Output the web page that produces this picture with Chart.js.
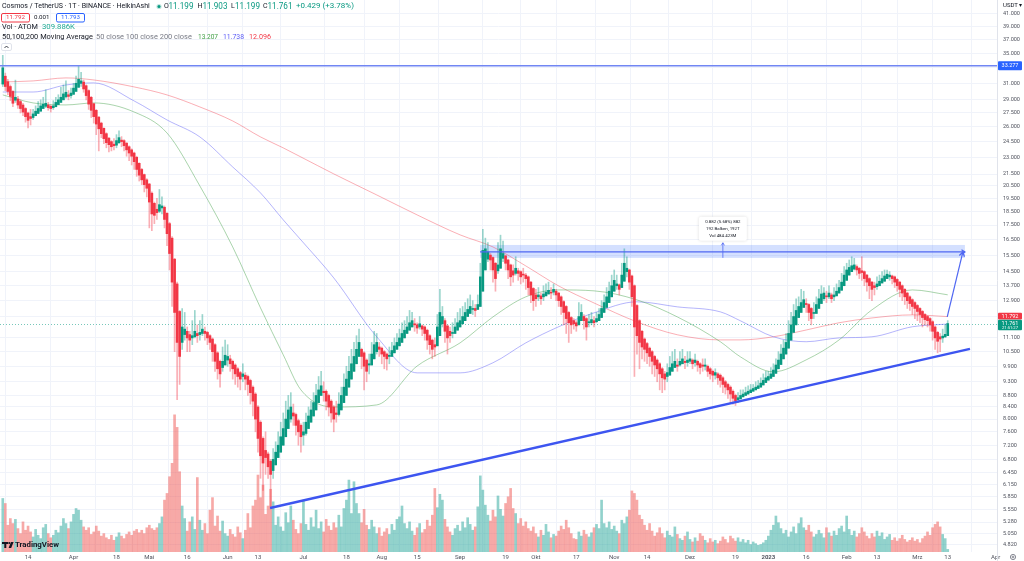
<!DOCTYPE html>
<html>
<head>
<meta charset="utf-8">
<script src="https://cdn.jsdelivr.net/npm/chart.js@4.4.0/dist/chart.umd.min.js"></script>
<style>
  html, body { margin: 0; padding: 0; background: #fff; }
  #wrap { position: relative; width: 1024px; height: 561px; }
</style>
</head>
<body>
<div id="wrap"><canvas id="myChart" width="1024" height="561"></canvas></div>
<script>
// day index 0 = 4 Mar 2022, last candle (374) = 13 Mar 2023
const opens = [
  30.9, 31.9, 31.2, 30.6, 30.0, 28.95, 29.1, 28.8, 28.4, 28.0,
  27.5, 27.1, 27.0, 27.2, 27.45, 27.7, 28.0, 28.25, 28.4, 28.25,
  28.1, 28.2, 28.45, 28.7, 29.0, 29.35, 29.6, 29.5, 29.65, 30.0,
  30.5, 31.0, 31.15, 30.7, 30.1, 29.3, 28.55, 27.8, 27.05, 26.4,
  25.85, 25.3, 24.85, 24.5, 24.25, 24.15, 24.4, 24.65, 24.6, 24.35,
  24.0, 23.7, 23.4, 23.0, 22.45, 21.9, 21.45, 21.0, 20.65, 19.9,
  19.1, 18.65, 18.5, 18.75, 18.8, 18.35, 17.6, 16.6, 15.25, 13.8,
  12.35, 10.9, 11.25, 11.4, 11.25, 11.1, 11.15, 11.3, 11.25, 11.3,
  11.4, 11.35, 11.2, 11.05, 10.8, 10.45, 10.1, 9.85, 9.95, 10.15,
  10.2, 10.1, 9.95, 9.8, 9.65, 9.5, 9.55, 9.5, 9.35, 9.1,
  8.85, 8.4, 7.9, 7.4, 7.05, 6.95, 6.75, 6.5, 6.65, 6.85,
  7.0, 7.2, 7.45, 7.7, 8.0, 8.2, 8.15, 7.95, 7.8, 7.5,
  7.55, 7.7, 7.9, 8.1, 8.3, 8.55, 8.8, 8.95, 8.95, 8.8,
  8.6, 8.4, 8.2, 8.15, 8.3, 8.55, 8.8, 9.1, 9.4, 9.7,
  10.0, 10.3, 10.6, 10.45, 10.15, 9.95, 9.95, 10.2, 10.5, 10.7,
  10.65, 10.5, 10.4, 10.3, 10.3, 10.45, 10.6, 10.75, 10.9, 11.1,
  11.3, 11.45, 11.6, 11.75, 11.7, 11.6, 11.65, 11.6, 11.45, 11.2,
  11.0, 10.8, 10.75, 11.2, 11.75, 11.9, 11.65, 11.4, 11.3, 11.3,
  11.45, 11.6, 11.75, 11.9, 12.1, 12.25, 12.45, 12.5, 12.45, 12.6,
  13.4, 14.6, 15.25, 15.5, 15.35, 15.0, 14.55, 14.7, 15.3, 15.45,
  15.2, 14.9, 14.55, 14.4, 14.55, 14.5, 14.35, 14.3, 14.2, 13.9,
  13.55, 13.2, 13.1, 13.15, 13.1, 13.15, 13.25, 13.35, 13.35, 13.4,
  13.3, 13.1, 12.85, 12.6, 12.3, 12.05, 11.9, 11.8, 11.7, 11.9,
  12.1, 12.0, 11.8, 11.8, 11.9, 11.85, 11.9, 12.05, 12.3, 12.55,
  12.8, 13.1, 13.4, 13.7, 13.75, 13.6, 13.95, 14.5, 14.6, 14.25,
  13.7, 12.65, 11.9, 11.4, 11.05, 10.85, 10.65, 10.5, 10.3, 10.15,
  10.0, 9.8, 9.6, 9.5, 9.55, 9.7, 9.85, 9.95, 9.95, 10.0,
  10.1, 10.05, 10.1, 10.15, 10.05, 10.1, 10.0, 9.95, 9.9, 9.9,
  9.8, 9.7, 9.55, 9.6, 9.55, 9.45, 9.3, 9.2, 9.1, 8.95,
  8.8, 8.65, 8.68, 8.75, 8.8, 8.85, 8.9, 8.95, 9.0, 9.05,
  9.1, 9.18, 9.27, 9.36, 9.43, 9.5, 9.62, 9.8, 9.97, 10.2,
  10.4, 10.65, 11.0, 11.35, 11.7, 12.05, 12.3, 12.55, 12.75, 12.7,
  12.5, 12.25, 12.25, 12.5, 12.75, 13.0, 13.15, 13.1, 13.2, 13.1,
  13.15, 13.3, 13.45, 13.7, 14.0, 14.3, 14.5, 14.65, 14.8, 14.7,
  14.55, 14.5, 14.3, 14.1, 13.9, 13.7, 13.65, 13.7, 13.85, 13.95,
  14.1, 14.2, 14.25, 14.2, 14.05, 13.9, 13.7, 13.5, 13.3, 13.1,
  12.95, 12.8, 12.65, 12.5, 12.35, 12.2, 12.1, 12.0, 11.85, 11.6,
  11.35, 11.15, 11.1, 11.14, 11.199
];
const closes = [
  33.0, 30.6, 30.0, 29.4, 28.6, 29.3, 28.4, 28.0, 27.6, 27.1,
  26.7, 26.9, 27.4, 27.7, 28.0, 28.3, 28.5, 28.6, 28.1, 28.0,
  28.3, 28.7, 29.0, 29.3, 29.7, 29.9, 29.4, 29.8, 30.4, 31.0,
  31.5, 31.3, 30.3, 29.5, 28.5, 27.8, 27.1, 26.3, 25.8, 25.3,
  24.8, 24.4, 24.2, 24.0, 24.1, 24.6, 24.9, 24.5, 24.1, 23.7,
  23.4, 23.1, 22.6, 21.9, 21.4, 21.0, 20.6, 20.3, 19.2, 18.3,
  18.2, 18.4, 19.0, 18.9, 17.9, 16.9, 15.6, 13.9, 12.3, 10.9,
  10.3, 11.6, 11.5, 11.1, 11.0, 11.2, 11.4, 11.2, 11.35, 11.5,
  11.3, 11.1, 10.9, 10.5, 10.1, 9.8, 9.6, 10.1, 10.35, 10.3,
  10.0, 9.8, 9.6, 9.5, 9.4, 9.6, 9.4, 9.2, 8.9, 8.6,
  8.0, 7.4, 6.9, 6.7, 6.85, 6.6, 6.4, 6.8, 7.0, 7.2,
  7.45, 7.7, 8.0, 8.3, 8.4, 8.1, 7.8, 7.6, 7.45, 7.6,
  7.9, 8.1, 8.3, 8.55, 8.8, 9.0, 9.15, 8.9, 8.6, 8.4,
  8.2, 8.0, 8.15, 8.5, 8.8, 9.1, 9.4, 9.7, 10.0, 10.3,
  10.6, 10.9, 10.3, 9.9, 9.7, 10.0, 10.4, 10.8, 10.9, 10.6,
  10.4, 10.3, 10.2, 10.35, 10.55, 10.75, 10.9, 11.1, 11.3, 11.45,
  11.6, 11.8, 11.9, 11.7, 11.55, 11.75, 11.5, 11.3, 11.0, 10.8,
  10.6, 10.7, 11.6, 12.3, 12.1, 11.4, 11.1, 11.2, 11.35, 11.6,
  11.8, 11.9, 12.1, 12.3, 12.45, 12.6, 12.5, 12.4, 12.7, 14.2,
  15.8, 15.9, 15.7, 15.2, 14.6, 14.1, 14.9, 15.9, 15.6, 15.0,
  14.6, 14.2, 14.3, 14.7, 14.4, 14.2, 14.3, 14.1, 13.6, 13.2,
  12.9, 13.0, 13.2, 13.0, 13.25, 13.35, 13.45, 13.3, 13.5, 13.2,
  12.9, 12.6, 12.3, 12.0, 11.8, 11.7, 11.75, 11.65, 12.1, 12.3,
  11.9, 11.6, 11.85, 11.95, 11.8, 12.0, 12.2, 12.5, 12.8, 13.1,
  13.4, 13.7, 14.0, 13.8, 13.5, 14.3, 15.0, 14.7, 13.9, 13.1,
  11.6, 11.2, 10.9, 10.7, 10.6, 10.45, 10.3, 10.1, 9.95, 9.8,
  9.6, 9.45, 9.4, 9.65, 9.85, 10.0, 10.1, 9.9, 10.1, 10.2,
  10.05, 10.15, 10.2, 10.0, 10.15, 9.95, 9.85, 9.9, 9.95, 9.7,
  9.6, 9.55, 9.65, 9.45, 9.35, 9.2, 9.1, 9.0, 8.85, 8.7,
  8.6, 8.72, 8.8, 8.85, 8.9, 8.95, 9.0, 9.05, 9.1, 9.15,
  9.25, 9.35, 9.45, 9.5, 9.6, 9.75, 9.95, 10.15, 10.4, 10.65,
  10.9, 11.3, 11.7, 12.1, 12.4, 12.6, 12.8, 12.95, 12.7, 12.3,
  12.0, 12.3, 12.7, 13.0, 13.25, 13.3, 13.1, 13.3, 13.0, 13.2,
  13.4, 13.6, 13.9, 14.3, 14.6, 14.75, 14.85, 14.9, 14.6, 14.4,
  14.45, 14.1, 13.9, 13.7, 13.5, 13.6, 13.8, 13.95, 14.1, 14.25,
  14.35, 14.3, 14.1, 13.9, 13.7, 13.5, 13.3, 13.1, 12.9, 12.75,
  12.6, 12.5, 12.35, 12.2, 12.05, 11.95, 11.9, 11.7, 11.4, 11.1,
  10.95, 11.05, 11.18, 11.26, 11.761
];
const highs = [
  34.7, 32.3, 31.5, 30.8, 30.1, 31.4, 29.4, 29.0, 28.6, 28.1,
  27.6, 27.9, 27.9, 28.3, 28.8, 29.0, 29.3, 30.2, 28.7, 28.4,
  28.9, 29.3, 29.6, 30.5, 30.8, 31.3, 30.1, 30.4, 31.0, 31.9,
  33.3, 32.4, 31.4, 30.8, 30.2, 29.4, 28.6, 27.9, 27.1, 26.5,
  25.9, 25.4, 24.9, 24.6, 24.8, 25.2, 25.6, 25.0, 24.7, 24.4,
  24.1, 23.8, 23.5, 23.1, 22.5, 22.0, 21.5, 21.1, 20.7, 20.0,
  19.2, 19.5, 20.2, 19.6, 18.9, 18.4, 17.7, 16.7, 15.3, 13.9,
  12.4, 12.5, 12.3, 11.6, 11.4, 11.9, 12.4, 11.7, 11.9, 12.2,
  11.6, 11.4, 11.25, 11.1, 10.85, 10.5, 10.15, 10.7, 11.0, 10.8,
  10.35, 10.15, 10.0, 9.85, 9.7, 10.0, 9.65, 9.55, 9.4, 9.15,
  8.9, 8.45, 7.95, 7.45, 7.6, 7.0, 6.8, 7.1, 7.3, 7.6,
  7.9, 8.2, 8.6, 8.8, 8.9, 8.5, 8.2, 8.0, 7.85, 7.9,
  8.2, 8.4, 8.6, 8.9, 9.2, 9.5, 9.7, 9.3, 9.0, 8.85,
  8.65, 8.45, 8.6, 8.9, 9.1, 9.6, 9.9, 10.3, 10.6, 10.9,
  11.2, 11.5, 10.65, 10.5, 10.2, 10.4, 10.9, 11.4, 11.3, 10.9,
  10.7, 10.55, 10.45, 10.7, 10.9, 11.1, 11.3, 11.5, 11.8, 11.9,
  12.1, 12.4, 12.3, 12.0, 11.8, 12.1, 11.7, 11.65, 11.5, 11.25,
  11.05, 11.1, 12.2, 13.5, 12.6, 12.0, 11.7, 11.6, 11.8, 12.0,
  12.3, 12.5, 12.6, 12.8, 13.0, 13.2, 12.9, 12.7, 13.2, 15.0,
  17.2, 16.6, 16.3, 15.6, 15.4, 15.05, 16.3, 16.8, 16.4, 15.5,
  15.25, 14.95, 14.9, 15.4, 14.7, 14.55, 14.7, 14.4, 14.25, 13.95,
  13.6, 13.5, 13.6, 13.3, 13.7, 13.8, 13.9, 13.6, 13.8, 13.5,
  13.35, 13.15, 12.9, 12.65, 12.35, 12.1, 12.0, 11.9, 12.8, 12.7,
  12.2, 12.05, 12.2, 12.3, 12.1, 12.3, 12.5, 12.9, 13.2, 13.6,
  13.9, 14.3, 14.6, 14.3, 13.8, 15.0, 15.9, 15.4, 14.65, 14.3,
  13.75, 12.7, 11.95, 11.45, 11.1, 10.9, 10.7, 10.55, 10.35, 10.2,
  10.05, 9.85, 9.7, 10.0, 10.3, 10.5, 10.6, 10.2, 10.5, 10.6,
  10.3, 10.5, 10.5, 10.2, 10.4, 10.15, 10.05, 10.2, 10.2, 9.95,
  9.85, 9.75, 9.8, 9.65, 9.6, 9.5, 9.35, 9.25, 9.15, 9.0,
  8.85, 8.9, 9.0, 9.0, 9.1, 9.15, 9.2, 9.2, 9.3, 9.35,
  9.45, 9.6, 9.7, 9.7, 9.85, 10.0, 10.2, 10.5, 10.8, 11.0,
  11.3, 11.9, 12.3, 12.7, 13.0, 13.1, 13.5, 13.4, 13.0, 12.75,
  12.55, 12.8, 13.1, 13.5, 13.7, 13.6, 13.4, 13.7, 13.3, 13.6,
  13.8, 14.0, 14.4, 14.8, 15.0, 15.2, 15.4, 15.3, 14.9, 14.75,
  15.4, 14.55, 14.35, 14.15, 13.95, 13.9, 14.2, 14.3, 14.5, 14.6,
  14.6, 14.5, 14.3, 14.25, 14.1, 13.95, 13.75, 13.55, 13.35, 13.15,
  13.0, 12.85, 12.7, 12.55, 12.4, 12.25, 12.15, 12.05, 11.9, 11.65,
  11.4, 11.3, 11.5, 11.7, 11.903
];
const lows = [
  30.6, 30.1, 29.6, 28.9, 28.2, 28.7, 28.0, 27.5, 27.2, 26.5,
  25.9, 26.2, 26.8, 27.2, 27.45, 27.7, 28.0, 28.1, 27.8, 27.6,
  27.9, 28.2, 28.45, 28.7, 29.0, 29.2, 29.0, 29.2, 29.65, 30.0,
  30.5, 30.6, 29.9, 29.0, 27.9, 27.0, 26.4, 25.2, 23.6, 24.9,
  24.3, 23.9, 23.5, 23.6, 23.7, 23.9, 24.3, 24.0, 23.6, 23.1,
  22.7, 22.3, 21.9, 21.3, 20.9, 20.6, 20.0, 19.6, 17.3, 17.1,
  17.6, 17.9, 18.4, 18.3, 17.3, 16.1, 14.6, 12.6, 10.5, 8.65,
  9.2, 10.6, 11.0, 10.5, 10.5, 10.8, 11.1, 10.9, 11.0, 11.2,
  11.0, 10.8, 10.6, 10.1, 9.7, 9.4, 9.1, 9.7, 9.95, 9.9,
  9.7, 9.4, 9.2, 9.1, 9.0, 9.3, 9.0, 8.8, 8.5, 8.1,
  7.6, 7.0, 6.3, 6.0, 6.4, 6.3, 5.58, 6.3, 6.65, 6.85,
  7.0, 7.2, 7.45, 7.7, 7.9, 7.8, 7.5, 7.2, 7.0, 7.2,
  7.5, 7.7, 7.9, 8.1, 8.3, 8.55, 8.8, 8.6, 8.3, 8.1,
  7.9, 7.6, 7.9, 8.1, 8.3, 8.55, 8.8, 9.1, 9.4, 9.7,
  10.0, 10.3, 9.8, 9.0, 9.3, 9.6, 9.95, 10.2, 10.4, 10.3,
  10.0, 9.8, 9.75, 10.0, 10.3, 10.45, 10.6, 10.75, 10.9, 11.1,
  11.3, 11.45, 11.6, 11.4, 11.3, 11.5, 11.2, 11.0, 10.6, 10.4,
  10.2, 10.3, 10.75, 11.2, 11.6, 10.9, 10.4, 10.9, 11.1, 11.3,
  11.45, 11.6, 11.75, 11.9, 12.1, 12.25, 12.2, 12.1, 12.45, 12.6,
  13.4, 14.6, 15.1, 14.6, 13.9, 13.4, 14.4, 14.7, 15.1, 14.6,
  14.1, 13.7, 13.9, 14.3, 14.0, 13.8, 13.9, 13.5, 13.2, 12.8,
  12.4, 12.6, 12.9, 12.7, 12.9, 13.15, 13.25, 13.0, 13.2, 12.9,
  12.6, 12.2, 11.7, 11.3, 10.9, 11.3, 11.5, 11.4, 11.7, 11.9,
  11.5, 11.0, 11.6, 11.7, 11.6, 11.8, 11.9, 12.05, 12.3, 12.55,
  12.8, 13.1, 13.4, 13.5, 13.2, 13.6, 13.95, 14.2, 13.5, 12.6,
  9.5, 10.4, 9.8, 10.2, 10.1, 10.0, 9.9, 9.6, 9.5, 9.3,
  9.0, 8.9, 9.0, 9.3, 9.55, 9.7, 9.85, 9.7, 9.9, 10.0,
  9.8, 9.9, 10.0, 9.8, 9.9, 9.7, 9.6, 9.7, 9.75, 9.5,
  9.4, 9.3, 9.4, 9.2, 9.1, 8.9, 8.85, 8.7, 8.55, 8.5,
  8.45, 8.55, 8.68, 8.75, 8.8, 8.85, 8.9, 8.95, 9.0, 9.05,
  9.1, 9.18, 9.27, 9.36, 9.43, 9.5, 9.62, 9.8, 9.97, 10.2,
  10.4, 10.65, 11.0, 11.35, 11.7, 12.05, 12.3, 12.55, 12.3, 11.9,
  11.7, 12.0, 12.25, 12.5, 12.75, 12.9, 12.8, 13.0, 12.8, 12.9,
  13.15, 13.3, 13.45, 13.7, 14.0, 14.3, 14.5, 14.6, 14.3, 14.1,
  14.0, 13.7, 13.4, 13.0, 12.9, 13.2, 13.5, 13.7, 13.85, 13.95,
  14.1, 14.0, 13.8, 13.6, 13.4, 13.1, 12.9, 12.7, 12.5, 12.4,
  12.2, 12.0, 11.9, 11.8, 11.6, 11.7, 11.6, 11.4, 11.0, 10.6,
  10.45, 10.5, 10.9, 11.14, 11.199
];
// volume in millions of ATOM
const volumes = [
  6.4, 5.8, 3.2, 4.0, 3.4, 3.9, 2.8, 2.2, 3.6, 2.6,
  3.1, 2.4, 1.8, 2.7, 2.0, 1.6, 2.9, 3.3, 2.2, 1.7,
  2.0, 2.6, 2.3, 3.1, 4.0, 3.4, 2.8, 3.6, 4.5, 5.2,
  5.0, 3.8, 3.0, 2.6, 2.9, 2.1, 2.4, 3.1, 2.5, 1.9,
  2.2, 1.7, 1.5, 2.0, 1.4, 1.8, 2.3, 1.9, 1.6, 2.1,
  2.4, 2.0, 2.5, 2.7, 2.3, 2.6, 2.2, 2.9, 3.2, 2.8,
  2.6, 2.9, 3.4, 4.2, 6.2, 7.0, 9.0, 10.6, 16.4, 14.9,
  9.6, 5.5, 4.0, 2.5, 3.6, 4.2, 2.7, 8.9, 3.8, 2.6,
  3.4, 2.2, 5.0, 6.5, 3.1, 4.3, 2.5, 3.7, 2.2, 1.9,
  2.7, 2.1, 1.8, 3.0, 2.3, 1.6, 2.6, 4.6, 2.9, 5.5,
  6.2, 9.2, 6.5, 8.0, 4.5, 5.5, 7.5, 6.0, 3.2, 4.2,
  3.0, 2.5, 4.7, 3.5, 5.5, 3.8, 2.7, 2.2, 3.4, 6.2,
  3.3, 2.6, 4.1, 3.0, 5.0, 2.8, 3.6, 2.4, 3.9, 3.1,
  2.6, 3.5, 2.9, 4.4, 3.0, 5.2, 6.2, 8.6, 4.6, 8.4,
  5.8, 4.6, 3.5, 5.1, 3.2, 2.7, 3.8, 3.0, 2.2, 2.9,
  1.9, 2.4, 2.8, 2.1, 3.3, 2.6, 3.9, 4.2, 5.5, 3.4,
  2.8, 3.6, 2.5, 2.0, 2.9, 3.4, 2.3, 2.7, 3.8, 3.1,
  4.4, 7.6, 5.3, 6.9, 6.2, 3.9, 3.0, 2.4, 2.0, 2.8,
  3.2, 2.5, 3.6, 2.9, 4.1, 3.3, 2.6, 3.0, 5.4, 9.1,
  7.4, 5.6, 4.4, 3.7, 5.0, 4.2, 6.7, 5.1, 4.3, 5.8,
  6.6, 7.6, 5.2, 4.6, 3.4, 4.0, 3.1, 3.6, 2.8, 2.5,
  3.0, 2.2, 1.8, 2.6, 2.0, 3.3, 2.4, 1.7, 2.1, 1.9,
  2.5, 3.1, 2.7, 3.8, 2.9, 2.2, 1.6, 1.5, 2.4, 1.9,
  2.6, 2.1, 1.8, 2.3, 2.9, 3.3, 2.8, 6.2, 3.4, 2.9,
  3.6, 2.7, 3.1, 2.5, 2.2, 3.8, 3.4, 4.2, 5.0, 7.3,
  7.0, 6.2, 4.4, 3.9, 3.2, 2.6, 3.4, 2.5, 1.9, 2.3,
  2.9, 2.2, 1.7, 2.5, 2.0, 1.8, 3.0, 2.1, 1.6, 1.4,
  1.9, 2.4, 1.5, 1.2, 1.7, 1.3, 2.2, 1.9, 1.4, 1.1,
  1.6, 1.2, 1.4, 1.0, 1.3, 1.8, 1.5, 1.1, 1.9, 1.6,
  1.3, 1.7, 1.2, 1.5, 1.1, 1.4, 0.9, 1.2, 1.0, 0.8,
  0.9, 1.1, 1.4, 1.9, 2.6, 3.2, 4.3, 3.5, 2.8, 2.2,
  2.6, 1.8, 2.4, 3.0, 2.2, 3.4, 4.1, 2.9, 2.6, 3.2,
  2.4, 1.8, 2.1, 2.6, 2.2, 1.7, 2.9, 2.3, 1.9, 2.5,
  2.0, 2.8, 3.1, 2.4, 4.3, 2.7, 2.0, 2.5, 1.8, 2.2,
  2.9, 2.4, 1.9, 1.6, 2.2, 1.8, 2.5, 1.9, 2.3, 1.5,
  1.8, 2.1, 1.4, 1.7, 1.3, 1.6, 2.0, 1.5, 1.2, 1.4,
  1.7, 1.3, 1.5, 1.1, 1.6, 1.9, 2.4, 2.0, 2.9, 3.3,
  3.6, 3.0, 2.1, 1.6, 0.31
];

// moving averages, read at these day indices
const maDays = [0, 12, 25, 36, 52, 65, 78, 91, 102, 111, 118, 131, 148, 164, 181, 194, 207, 220, 234, 251, 267, 284, 292, 305, 318, 331, 344, 360, 374];
const ma50 = [29.58, 28.64, 28.41, 28.64, 27.61, 25.37, 20.49, 16.02, 12.53, 10.37, 9.00, 8.40, 8.47, 9.91, 10.88, 12.08, 13.10, 13.47, 13.42, 12.94, 12.08, 10.93, 10.28, 9.68, 10.16, 11.01, 12.43, 13.47, 13.207];
const ma100 = [29.93, 29.93, 30.79, 31.05, 28.87, 26.74, 24.97, 22.12, 19.92, 17.87, 16.48, 14.14, 11.15, 9.64, 9.64, 10.04, 10.88, 11.61, 12.28, 12.84, 12.58, 12.33, 11.89, 11.15, 10.93, 11.10, 11.15, 11.61, 11.738];
const ma200 = [31.17, 31.30, 31.68, 31.42, 30.55, 29.58, 28.18, 26.63, 24.97, 23.89, 23.03, 21.51, 19.76, 18.23, 16.82, 16.02, 14.84, 13.69, 12.78, 11.84, 11.24, 11.01, 11.01, 11.15, 11.46, 11.80, 12.03, 12.18, 12.096];

const xTickDays = [10, 28, 45, 58, 73, 89, 101, 119, 136, 150, 164, 181, 199, 211, 227, 242, 255, 272, 290, 303, 318, 334, 346, 362, 374, 393];
const xTickLabels = ['14', 'Apr', '18', 'Mai', '16', 'Jun', '13', 'Jul', '18', 'Aug', '15', 'Sep', '19', 'Okt', '17', 'Nov', '14', 'Dez', '19', '2023', '16', 'Feb', '13', 'Mrz', '13', 'Apr'];
const yTicks = [41, 39, 37, 35, 33, 31, 29, 27.5, 26, 24.5, 23, 21.5, 20.5, 19.5, 18.5, 17.5, 16.5, 15.5, 14.5, 13.7, 12.9, 12.1, 11.1, 10.5, 9.9, 9.3, 8.8, 8.4, 8.0, 7.6, 7.2, 6.8, 6.45, 6.15, 5.85, 5.55, 5.28, 5.05, 4.82];

// drawings
const resistance = 33.277;
const zoneLow = 15.33, zoneHigh = 16.15, zoneMid = 15.70;
const zoneFrom = 188.9, zoneTo = 380.8;
const measureDay = 285, measureTop = 16.29;
const trendDays = [105.8, 382.8], trendPrices = [5.59, 10.62];
const targetDays = [373.8, 380.0], targetPrices = [12.08, 15.70];
const lastPrice = 11.761;

const days = opens.map((_, i) => i);
const isUp = days.map(i => closes[i] >= opens[i]);
const UP = '#089981', DOWN = '#f23645';
const FONT = 'Roboto, "Liberation Sans", sans-serif';

function txt(ctx, s, x, y, color, size, weight, align) {
  ctx.font = (weight || 'normal') + ' ' + size + 'px ' + FONT;
  ctx.fillStyle = color;
  ctx.textAlign = align || 'left';
  ctx.textBaseline = 'middle';
  ctx.fillText(s, x, y);
}
function fitTxt(ctx, s, x, y, w, color, weight) {
  ctx.font = (weight || 'normal') + ' 10px ' + FONT;
  const size = 10 * w / ctx.measureText(s).width;
  txt(ctx, s, x, y, color, size.toFixed(2), weight);
}
function arrow(ctx, x1, y1, x2, y2, color, lw, head) {
  ctx.strokeStyle = color;
  ctx.lineWidth = lw;
  ctx.beginPath(); ctx.moveTo(x1, y1); ctx.lineTo(x2, y2); ctx.stroke();
  const a = Math.atan2(y2 - y1, x2 - x1);
  ctx.beginPath();
  ctx.moveTo(x2 - head * Math.cos(a - 0.55), y2 - head * Math.sin(a - 0.55));
  ctx.lineTo(x2, y2);
  ctx.lineTo(x2 - head * Math.cos(a + 0.55), y2 - head * Math.sin(a + 0.55));
  ctx.stroke();
}
function box(ctx, x, y, w, h, fill, stroke, r) {
  ctx.beginPath();
  ctx.roundRect(x, y, w, h, r || 0);
  if (fill) { ctx.fillStyle = fill; ctx.fill(); }
  if (stroke) { ctx.strokeStyle = stroke; ctx.lineWidth = 1; ctx.stroke(); }
}

const drawings = {
  id: 'drawings',
  beforeDatasetsDraw(chart) {
    const { ctx, chartArea: a, scales: { x, y } } = chart;
    ctx.save();
    // price zone
    const x1 = x.getPixelForValue(zoneFrom), x2 = x.getPixelForValue(zoneTo);
    const yt = y.getPixelForValue(zoneHigh), yb = y.getPixelForValue(zoneLow);
    ctx.fillStyle = 'rgba(41,98,255,0.2)';
    ctx.fillRect(x1, yt, x2 - x1, yb - yt);
    // last price line
    const yp = Math.round(y.getPixelForValue(lastPrice)) + 0.5;
    ctx.strokeStyle = 'rgba(8,153,129,0.55)';
    ctx.lineWidth = 1;
    ctx.setLineDash([1, 2]);
    ctx.beginPath(); ctx.moveTo(a.left, yp); ctx.lineTo(a.right, yp); ctx.stroke();
    ctx.restore();
  },
  afterDatasetsDraw(chart) {
    const { ctx, scales: { x, y } } = chart;
    ctx.save();
    const x1 = x.getPixelForValue(zoneFrom), x2 = x.getPixelForValue(zoneTo);
    const ym = y.getPixelForValue(zoneMid);
    arrow(ctx, x1, ym, x2, ym, '#4f67f2', 1.2, 4);
    // measure
    const mx = x.getPixelForValue(measureDay);
    const mt = y.getPixelForValue(measureTop);
    arrow(ctx, mx, y.getPixelForValue(zoneLow), mx, mt, '#4f67f2', 0.8, 3);
    ctx.shadowColor = 'rgba(0,0,0,0.15)';
    ctx.shadowBlur = 3;
    box(ctx, mx - 24, mt - 26, 48, 24, '#ffffff', null, 2);
    ctx.shadowBlur = 0;
    txt(ctx, '0.882 (5.68%) 882', mx, mt - 21, '#131722', 4.4, 'normal', 'center');
    txt(ctx, '192 Balken, 192T', mx, mt - 14, '#131722', 4.4, 'normal', 'center');
    txt(ctx, 'Vol 484.423M', mx, mt - 7, '#131722', 4.4, 'normal', 'center');
    // target arrow
    arrow(ctx, x.getPixelForValue(targetDays[0]), y.getPixelForValue(targetPrices[0]),
      x.getPixelForValue(targetDays[1]), y.getPixelForValue(targetPrices[1]), '#4f67f2', 1.2, 5);
    ctx.restore();
  },
  afterDraw(chart) {
    const { ctx, chartArea: a, scales: { y } } = chart;
    ctx.save();
    // axis separator
    ctx.strokeStyle = '#e0e3eb';
    ctx.lineWidth = 1;
    ctx.beginPath(); ctx.moveTo(a.right + 0.5, 0); ctx.lineTo(a.right + 0.5, 561); ctx.stroke();

    // price labels on the axis
    const pr = y.getPixelForValue(resistance);
    box(ctx, a.right + 1, pr - 4.5, 24, 9, '#2962ff', null, 1);
    txt(ctx, '33.277', a.right + 13, pr, '#ffffff', 5.5, 'normal', 'center');
    const pl = y.getPixelForValue(lastPrice);
    box(ctx, a.right + 1, pl - 10.8, 24, 6.8, DOWN, null, 1);
    txt(ctx, '11.792', a.right + 13, pl - 7.4, '#ffffff', 5.5, 'normal', 'center');
    box(ctx, a.right + 1, pl - 3.8, 24, 10.5, UP, null, 1);
    txt(ctx, '11.761', a.right + 13, pl - 0.3, '#ffffff', 5.5, 'normal', 'center');
    txt(ctx, '21:51:27', a.right + 13, pl + 4, '#ffffff', 4.2, 'normal', 'center');

    txt(ctx, 'USDT \u25BE', 1003, 5, '#131722', 6, 'normal');
    ctx.strokeStyle = '#787b86';
    ctx.lineWidth = 0.9;
    ctx.beginPath(); ctx.arc(1013, 557, 2.6, 0, Math.PI * 2); ctx.stroke();
    ctx.beginPath(); ctx.arc(1013, 557, 0.9, 0, Math.PI * 2); ctx.stroke();

    // legend header
    fitTxt(ctx, 'Cosmos / TetherUS \u00B7 1T \u00B7 BINANCE \u00B7 HeikinAshi', 2, 6.5, 148, '#131722');
    ctx.fillStyle = 'rgba(8,153,129,0.25)';
    ctx.beginPath(); ctx.arc(159, 6.5, 2.6, 0, Math.PI * 2); ctx.fill();
    ctx.fillStyle = UP;
    ctx.beginPath(); ctx.arc(159, 6.5, 1.5, 0, Math.PI * 2); ctx.fill();
    const ohlc = [['O', 164, '11.199', 168.5], ['H', 197.5, '11.903', 202.5], ['L', 231, '11.199', 235], ['C', 263, '11.761', 267.5]];
    ohlc.forEach(p => {
      txt(ctx, p[0], p[1], 6.5, '#131722', 7);
      fitTxt(ctx, p[2], p[3], 6.5, 25, UP);
    });
    fitTxt(ctx, '+0.429 (+3.78%)', 296, 6.5, 58, UP);

    box(ctx, 1.5, 13.5, 28, 8.5, null, DOWN, 1.5);
    txt(ctx, '11.792', 15.5, 17.8, DOWN, 6.2, 'normal', 'center');
    txt(ctx, '0.001', 34, 17.8, '#131722', 6.2);
    box(ctx, 56.5, 13.5, 28, 8.5, null, '#2962ff', 1.5);
    txt(ctx, '11.793', 70.5, 17.8, '#2962ff', 6.2, 'normal', 'center');

    fitTxt(ctx, 'Vol \u00B7 ATOM', 2, 27.5, 36, '#131722');
    fitTxt(ctx, '309.886K', 42, 27.5, 33, '#22ab94');

    fitTxt(ctx, '50,100,200 Moving Average', 2, 37.5, 91, '#131722');
    fitTxt(ctx, '50 close 100 close 200 close', 96, 37.5, 96, '#787b86');
    fitTxt(ctx, '13.207', 198, 37.5, 20, '#43a047');
    fitTxt(ctx, '11.738', 223, 37.5, 21, '#5b5cf6');
    fitTxt(ctx, '12.096', 249, 37.5, 22, DOWN);

    box(ctx, 1.5, 43.5, 10, 7, '#ffffff', '#e0e3eb', 1.5);
    ctx.strokeStyle = '#131722';
    ctx.lineWidth = 0.8;
    ctx.beginPath(); ctx.moveTo(4.5, 48); ctx.lineTo(6.5, 46); ctx.lineTo(8.5, 48); ctx.stroke();

    // TradingView logo
    ctx.fillStyle = '#131722';
    ctx.fillRect(2, 542, 6, 2);
    ctx.fillRect(4.3, 542, 2, 6);
    ctx.beginPath(); ctx.arc(9.3, 543, 1.1, 0, Math.PI * 2); ctx.fill();
    ctx.beginPath(); ctx.moveTo(11, 542); ctx.lineTo(13.6, 542); ctx.lineTo(11.2, 548); ctx.lineTo(8.6, 548); ctx.closePath(); ctx.fill();
    fitTxt(ctx, 'TradingView', 15, 545.3, 44, '#131722', 'bold');
    ctx.restore();
  }
};

const ctx = document.getElementById('myChart').getContext('2d');
const myChart = new Chart(ctx, {
  type: 'bar',
  data: {
    datasets: [
      {
        type: 'line', label: 'Trend',
        data: trendDays.map((d, k) => ({ x: d, y: trendPrices[k] })),
        borderColor: '#3d55f0', borderWidth: 2.5, pointRadius: 0, order: 0
      },
      {
        type: 'line', label: 'Resistance',
        data: [{ x: -1.1, y: resistance }, { x: 393.5, y: resistance }],
        borderColor: '#7186f3', borderWidth: 1.3, pointRadius: 0, order: 0
      },
      {
        label: 'Body',
        data: days.map(i => ({ x: i, y: [opens[i], closes[i]] })),
        backgroundColor: days.map(i => isUp[i] ? UP : DOWN),
        barThickness: 2, minBarLength: 1, grouped: false, order: 1
      },
      {
        label: 'Wick',
        data: days.map(i => ({ x: i, y: [lows[i], highs[i]] })),
        backgroundColor: days.map(i => isUp[i] ? 'rgba(8,153,129,0.4)' : 'rgba(242,54,69,0.4)'),
        barThickness: 1, grouped: false, order: 2
      },
      {
        type: 'line', label: 'MA 50',
        data: maDays.map((d, k) => ({ x: d, y: ma50[k] })),
        borderColor: 'rgba(67,160,71,0.45)', borderWidth: 1, pointRadius: 0,
        cubicInterpolationMode: 'monotone', order: 3
      },
      {
        type: 'line', label: 'MA 100',
        data: maDays.map((d, k) => ({ x: d, y: ma100[k] })),
        borderColor: 'rgba(91,92,246,0.45)', borderWidth: 1, pointRadius: 0,
        cubicInterpolationMode: 'monotone', order: 3
      },
      {
        type: 'line', label: 'MA 200',
        data: maDays.map((d, k) => ({ x: d, y: ma200[k] })),
        borderColor: 'rgba(242,54,69,0.4)', borderWidth: 1, pointRadius: 0,
        cubicInterpolationMode: 'monotone', order: 3
      },
      {
        label: 'Vol', yAxisID: 'v',
        data: days.map(i => ({ x: i, y: volumes[i] })),
        backgroundColor: days.map(i => isUp[i] ? 'rgba(38,166,154,0.5)' : 'rgba(239,83,80,0.5)'),
        barThickness: 2, grouped: false, order: 9
      }
    ]
  },
  options: {
    responsive: false,
    animation: false,
    devicePixelRatio: 1,
    layout: { padding: 0 },
    plugins: { legend: { display: false }, tooltip: { enabled: false } },
    scales: {
      x: {
        type: 'linear', min: -1.1, max: 393.5, offset: false,
        grid: { color: '#f0f3fa', drawTicks: false },
        border: { display: false },
        afterBuildTicks: s => { s.ticks = xTickDays.map(v => ({ value: v })); },
        afterFit: s => { s.height = 9; s.paddingLeft = 0; s.paddingRight = 0; },
        ticks: {
          autoSkip: false, maxRotation: 0, padding: 2, color: '#50535e',
          font: c => ({ family: FONT, size: 6, weight: (c.tick && c.tick.value === 303) ? 'bold' : 'normal' }),
          callback: (v, idx) => xTickLabels[idx]
        }
      },
      y: {
        type: 'logarithmic', position: 'right', min: 4.68, max: 43.38,
        grid: { color: '#f0f3fa', drawTicks: false },
        border: { display: false },
        afterBuildTicks: s => { s.ticks = yTicks.map(v => ({ value: v })); },
        afterFit: s => { s.width = 27; s.paddingTop = 0; s.paddingBottom = 0; },
        ticks: {
          autoSkip: false, padding: 6, color: '#50535e',
          font: { family: FONT, size: 5.5 },
          callback: v => v.toFixed(3)
        }
      },
      v: { display: false, min: 0, max: 66 }
    }
  },
  plugins: [drawings]
});
</script>
</body>
</html>
